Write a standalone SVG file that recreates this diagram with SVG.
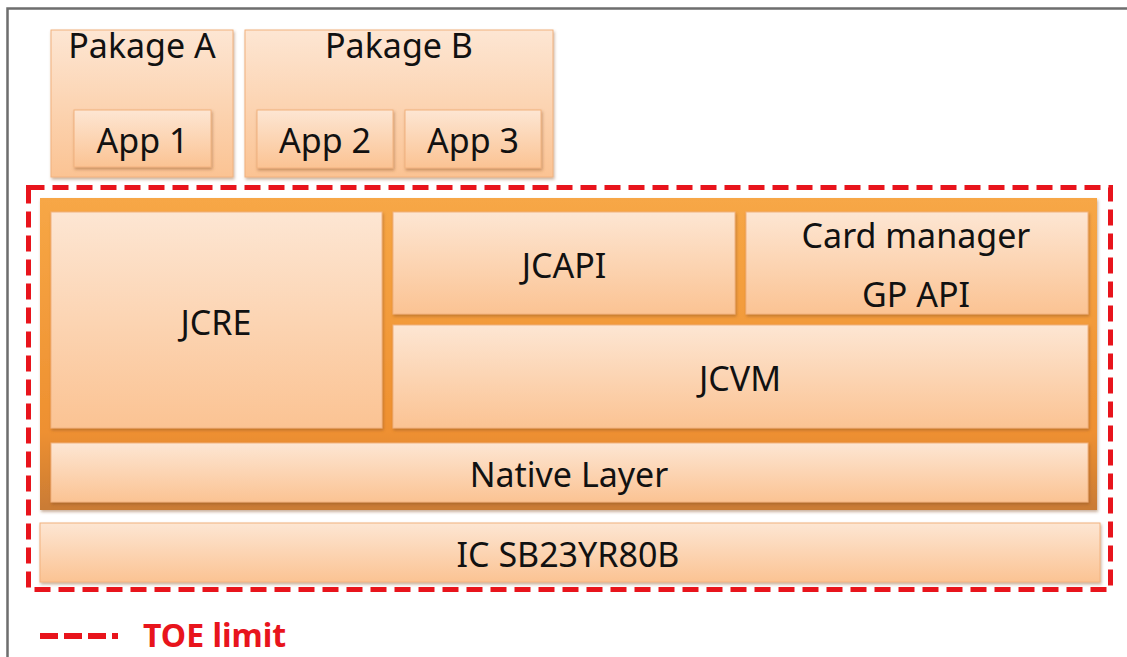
<svg xmlns="http://www.w3.org/2000/svg" width="1127" height="657" viewBox="0 0 1127 657">
  <defs>
    <linearGradient id="boxFill" x1="0" y1="0" x2="0" y2="1">
      <stop offset="0" stop-color="#FDE6D3"/>
      <stop offset="1" stop-color="#FBC393"/>
    </linearGradient>
    <linearGradient id="frameFill" x1="0" y1="0" x2="0" y2="1">
      <stop offset="0" stop-color="#F7A746"/>
      <stop offset="0.75" stop-color="#EE9030"/>
      <stop offset="1" stop-color="#C97B35"/>
    </linearGradient>
    <filter id="shadow" x="-5%" y="-10%" width="110%" height="130%">
      <feDropShadow dx="1" dy="2" stdDeviation="1.5" flood-color="#8A5020" flood-opacity="0.45"/>
    </filter>
  </defs>
  <style>
    .box { fill: url(#boxFill); stroke: #F2B27E; stroke-width: 1; filter: url(#shadow); }
    .lbl { font-family: "Noto Sans", "Open Sans", "DejaVu Sans", sans-serif; font-size: 34px; fill: #111; text-anchor: middle; }
    .toe { fill: none; stroke: #E8141C; stroke-width: 5; stroke-dasharray: 16 8; }
  </style>

  <rect width="1127" height="657" fill="#FFFFFF"/>

  <!-- page frame -->
  <path d="M7.5 657 V8.5 H1127" fill="none" stroke="#6E6E6E" stroke-width="2.5"/>

  <!-- packages -->
  <g id="pkgA">
    <rect class="box" x="51" y="30" width="182" height="147"/>
    <text class="lbl" x="142" y="58">Pakage A</text>
  </g>
  <g id="app1">
    <rect class="box" x="74" y="110" width="137" height="57"/>
    <text class="lbl" x="142.5" y="153">App 1</text>
  </g>
  <g id="pkgB">
    <rect class="box" x="245" y="30" width="308" height="147"/>
    <text class="lbl" x="399" y="58">Pakage B</text>
  </g>
  <g id="app2">
    <rect class="box" x="257" y="110" width="136" height="58"/>
    <text class="lbl" x="325" y="153">App 2</text>
  </g>
  <g id="app3">
    <rect class="box" x="405" y="110" width="136" height="58"/>
    <text class="lbl" x="473" y="153">App 3</text>
  </g>

  <!-- platform frame -->
  <g id="platform">
    <rect x="40" y="198" width="1057" height="312" fill="url(#frameFill)" filter="url(#shadow)"/>
  </g>
  <g id="jcre">
    <rect class="box" x="51" y="212" width="331" height="216"/>
    <text class="lbl" x="216" y="335">JCRE</text>
  </g>
  <g id="jcapi">
    <rect class="box" x="393" y="212" width="342" height="102"/>
    <text class="lbl" x="564" y="278">JCAPI</text>
  </g>
  <g id="cardmgr">
    <rect class="box" x="746" y="212" width="342" height="102"/>
    <text class="lbl" x="916" y="248">Card manager</text>
    <text class="lbl" x="916" y="307">GP API</text>
  </g>
  <g id="jcvm">
    <rect class="box" x="393" y="325" width="695" height="103"/>
    <text class="lbl" x="740" y="391">JCVM</text>
  </g>
  <g id="native">
    <rect class="box" x="51" y="443" width="1037" height="59"/>
    <text class="lbl" x="569" y="487">Native Layer</text>
  </g>
  <g id="ic">
    <rect class="box" x="40" y="523" width="1060" height="59"/>
    <text class="lbl" x="568" y="567">IC SB23YR80B</text>
  </g>

  <!-- TOE boundary -->
  <g id="toe-boundary">
    <rect class="toe" x="28.5" y="187.5" width="1082" height="402"/>
  </g>

  <!-- legend -->
  <g id="legend">
    <path d="M40 636 H120" fill="none" stroke="#E8141C" stroke-width="6" stroke-dasharray="18 6 18 6 18 6 6 6"/>
    <text x="143" y="647" font-family="Noto Sans, Open Sans, DejaVu Sans, sans-serif" font-size="32" font-weight="bold" fill="#E8141C">TOE limit</text>
  </g>
</svg>
